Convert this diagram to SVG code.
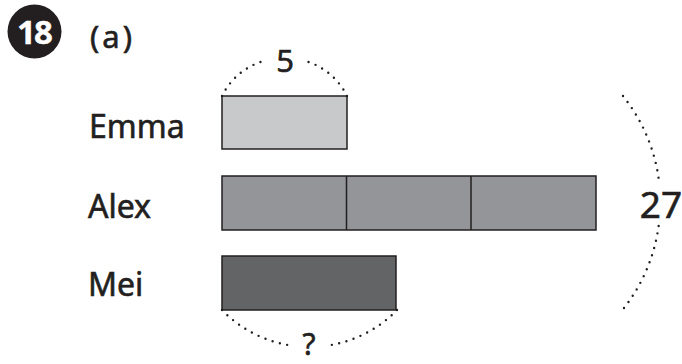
<svg xmlns="http://www.w3.org/2000/svg" width="682" height="364" viewBox="0 0 682 364">
<style>
text{font-family:"Noto Sans","Liberation Sans",sans-serif;fill:#231f20;stroke:#231f20;stroke-width:0.6}
.lbl{font-size:32px}
.bar{stroke:#231f20;stroke-width:1.5}
.dot{fill:none;stroke:#231f20;stroke-width:2.4;stroke-linecap:round;stroke-dasharray:0 7.5}
</style>
<rect width="682" height="364" fill="#fff"/>
<g id="q18">
<circle cx="34.5" cy="31.5" r="27" fill="#231f20"/>
<text x="34" y="43.5" font-size="33" font-weight="bold" text-anchor="middle" style="fill:#fff;stroke:#fff;stroke-width:0.4" letter-spacing="-2">18</text>
<text x="90" y="48" font-size="31" letter-spacing="3">(a)</text>
</g>
<g id="emma">
<text class="lbl" x="89" y="138">Emma</text>
<rect class="bar" x="222" y="96" width="125" height="53" fill="#c8c9cb"/>
</g>
<g id="alex">
<text class="lbl" x="88" y="218">Alex</text>
<rect class="bar" x="222" y="176" width="374" height="54" fill="#939598"/>
<line class="bar" x1="346.5" y1="176" x2="346.5" y2="230"/>
<line class="bar" x1="471" y1="176" x2="471" y2="230"/>
</g>
<g id="mei">
<text class="lbl" x="88" y="296">Mei</text>
<rect class="bar" x="222" y="256" width="174" height="54" fill="#636466"/>
</g>
<g id="connectors">
<path class="dot" d="M222,96 A68,68 0 0 1 267,60"/>
<path class="dot" d="M347,96 A68,68 0 0 0 302,60"/>
<path class="dot" d="M222,310 A121,121 0 0 0 288,345"/>
<path class="dot" d="M397,310 A121,121 0 0 1 331,345"/>
<path class="dot" d="M623,96 A170,170 0 0 1 659,181"/>
<path class="dot" d="M624,308 A170,170 0 0 0 659,223"/>
</g>
<g id="labels">
<text x="285" y="72" font-size="31" text-anchor="middle">5</text>
<text x="661" y="218" font-size="37" text-anchor="middle">27</text>
<text x="309" y="355" font-size="30" text-anchor="middle">?</text>
</g>
</svg>
